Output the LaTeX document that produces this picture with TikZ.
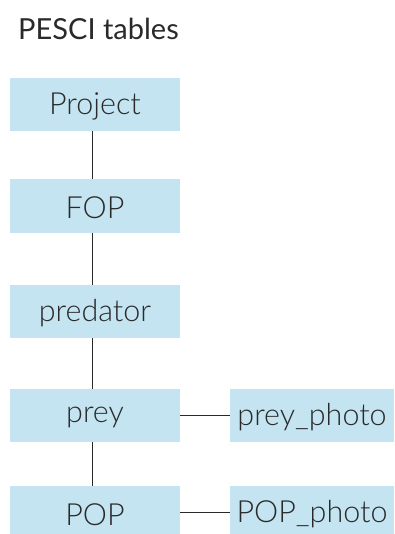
\documentclass[tikz,border=0pt]{standalone}
\usepackage{fontspec}
\setmainfont{Lato}
\newfontfamily\boxfont{Lato Light}
\newfontfamily\titlefont{Lato}
\definecolor{boxblue}{HTML}{C3E4F0}
\definecolor{txt}{HTML}{2A2A2A}
\newcommand{\lowered}[1]{\raisebox{-2pt}[\height][\depth]{#1}}
\begin{document}
\begin{tikzpicture}[x=1pt,y=-1pt,
  tbl/.style={rectangle, fill=boxblue, inner sep=0pt, minimum width=170pt, minimum height=53pt, text=txt, font=\boxfont\fontsize{30.5}{32}\selectfont},
  tblr/.style={tbl, minimum width=164pt},
  link/.style={draw=txt, line width=1pt}]
\useasboundingbox (0,0) rectangle (394,534);
\clip (0,0) rectangle (394,534);
\node[anchor=base west, text=txt, font=\titlefont\fontsize{29}{31}\selectfont, inner sep=0pt] (title) at (18,40) {PESCI tables};
\node[tbl] (project) at (95,104.5) {\lowered{Project}};
\node[tbl, minimum height=54pt] (fop) at (95,206) {\lowered{FOP}};
\node[tbl] (predator) at (95,311.5) {\lowered{predator}};
\node[tbl] (prey) at (95,415.5) {\lowered{prey}};
\node[tbl] (pop) at (95,512.5) {\lowered{POP}};
\node[tblr] (preyphoto) at (312,415.5) {\lowered{prey\_photo}};
\node[tblr] (popphoto) at (312,512.5) {\lowered{POP\_photo}};
\draw[link] ([xshift=-3pt]project.south) -- ([xshift=-3pt]fop.north);
\draw[link] ([xshift=-3pt]fop.south) -- ([xshift=-3pt]predator.north);
\draw[link] ([xshift=-3pt]predator.south) -- ([xshift=-3pt]prey.north);
\draw[link] ([xshift=-3pt]prey.south) -- ([xshift=-3pt]pop.north);
\draw[link] (prey.east) -- (preyphoto.west);
\draw[link] (pop.east) -- (popphoto.west);
\end{tikzpicture}
\end{document}
